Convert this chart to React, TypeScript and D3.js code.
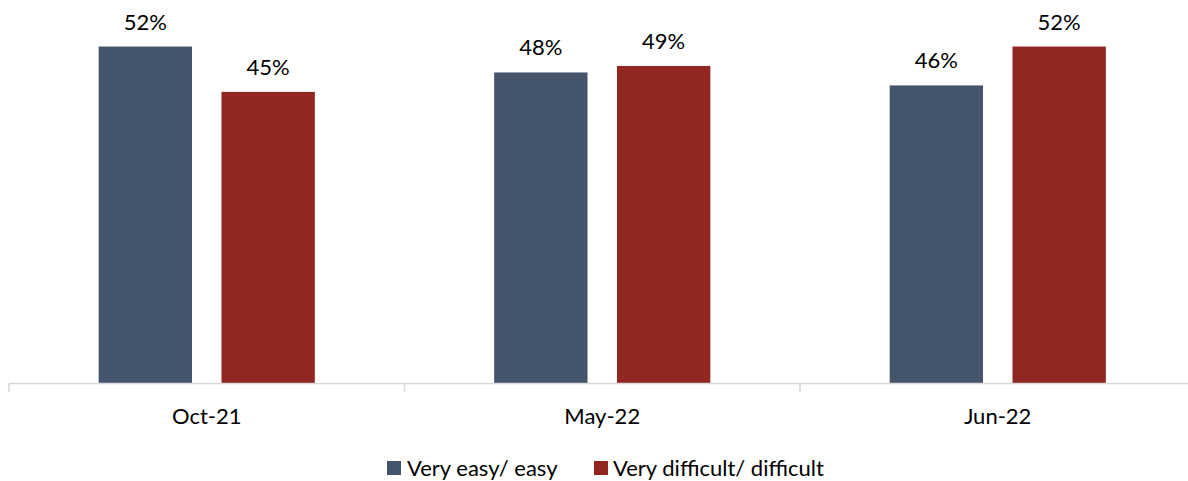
import React from "react";
import * as d3 from "d3";

// Survey waves shown along the x axis
const categories = ["Oct-21", "May-22", "Jun-22"];
// Series names, in legend order
const seriesNames = ["Very easy/ easy", "Very difficult/ difficult"];
// Share of respondents per wave (percent)
const easyValues = [52, 48, 46];
const difficultValues = [45, 49, 52];

const seriesColors = ["#44546a", "#922722"];

const WIDTH = 1188;
const HEIGHT = 481;
const FONT = "Lato, 'Noto Sans', sans-serif";
const FONT_SIZE = 22;

export default function App() {
  const plotLeft = 9;
  const plotRight = 1195.5;
  const baseline = 383.5;

  const x = d3.scaleBand<string>().domain(categories).range([plotLeft, plotRight]).padding(0);
  const inner = d3
    .scaleBand<string>()
    .domain(seriesNames)
    .range([0, x.step()])
    .paddingInner(0.24)
    .paddingOuter(0.73);
  const y = d3.scaleLinear().domain([0, 60]).range([baseline, baseline - 60 * 6.48]);

  const seriesValues = [easyValues, difficultValues];

  const tickXs = [...categories.map((c) => x(c) as number), plotRight];

  // legend layout
  const legendItems = [
    { name: seriesNames[0], color: seriesColors[0], sx: 387, tx: 407 },
    { name: seriesNames[1], color: seriesColors[1], sx: 594, tx: 613 },
  ];

  return (
    <svg
      width={WIDTH}
      height={HEIGHT}
      style={{ position: "absolute", left: 0, top: 0, display: "block", background: "#fff" }}
      fontFamily={FONT}
    >
      {/* bars and value labels */}
      {categories.map((cat, ci) => (
        <g key={cat} transform={`translate(${x(cat)},0)`}>
          {seriesNames.map((s, si) => {
            const v = seriesValues[si][ci];
            const bx = inner(s) as number;
            const bw = inner.bandwidth();
            return (
              <g key={s}>
                <rect x={bx} y={y(v)} width={bw} height={baseline - y(v)} fill={seriesColors[si]} />
                <text
                  x={bx + bw / 2}
                  y={y(v) - 17}
                  textAnchor="middle"
                  fontSize={FONT_SIZE}
                  fill="#000"
                >
                  {`${v}%`}
                </text>
              </g>
            );
          })}
        </g>
      ))}

      {/* category axis */}
      <line x1={plotLeft} x2={WIDTH} y1={baseline} y2={baseline} stroke="#d9d9d9" strokeWidth={1.5} />
      {tickXs.map((tx, i) => (
        <line key={i} x1={tx} x2={tx} y1={baseline} y2={baseline + 8.5} stroke="#d9d9d9" strokeWidth={1.5} />
      ))}
      {categories.map((cat) => (
        <text
          key={cat}
          x={(x(cat) as number) + x.bandwidth() / 2}
          y={423.5}
          textAnchor="middle"
          fontSize={FONT_SIZE}
          fill="#000"
        >
          {cat}
        </text>
      ))}

      {/* legend */}
      {legendItems.map((it) => (
        <g key={it.name}>
          <rect x={it.sx} y={461} width={14} height={14} fill={it.color} />
          <text x={it.tx} y={476} fontSize={FONT_SIZE} fill="#000">
            {it.name}
          </text>
        </g>
      ))}
    </svg>
  );
}
